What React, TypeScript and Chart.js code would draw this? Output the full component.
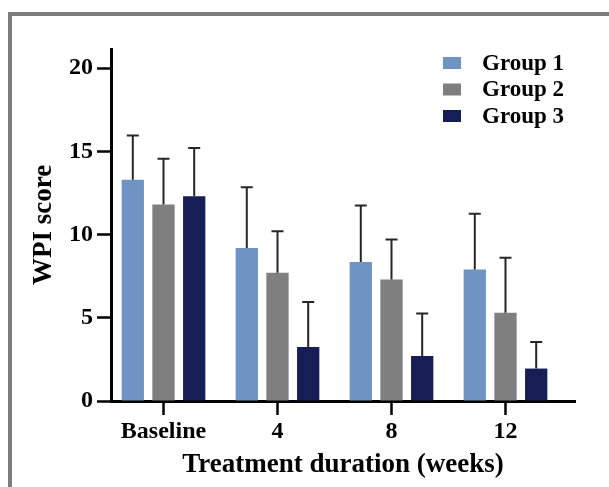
import React, { useEffect, useRef } from "react";
import { Chart, registerables } from "chart.js";

Chart.register(...registerables);

const categories = ["Baseline", "4", "8", "12"];
const seriesNames = ["Group 1", "Group 2", "Group 3"];
const group1Mean = [13.3, 9.2, 8.35, 7.9];
const group1Err = [2.65, 3.65, 3.4, 3.35];
const group2Mean = [11.8, 7.7, 7.3, 5.3];
const group2Err = [2.75, 2.5, 2.4, 3.3];
const group3Mean = [12.3, 3.25, 2.7, 1.95];
const group3Err = [2.9, 2.7, 2.55, 1.6];
const yTickValues = [0, 5, 10, 15, 20];
const yTitle = "WPI score";
const xTitle = "Treatment duration (weeks)";

const seriesColors = ["#6F93C3", "#7F7F7F", "#171D55"];
const FONT = "'Liberation Serif', 'Times New Roman', serif";

const errorBarPlugin = {
  id: "errorBars",
  afterDatasetsDraw(chart: any) {
    const { ctx } = chart;
    const yScale = chart.scales.y;
    ctx.save();
    ctx.strokeStyle = "#262626";
    ctx.lineWidth = 2;
    chart.data.datasets.forEach((ds: any, i: number) => {
      const meta = chart.getDatasetMeta(i);
      meta.data.forEach((bar: any, j: number) => {
        const v = ds.data[j].y;
        const top = yScale.getPixelForValue(v + ds.errors[j]);
        ctx.beginPath();
        ctx.moveTo(bar.x, bar.y);
        ctx.lineTo(bar.x, top);
        ctx.moveTo(bar.x - 6, top);
        ctx.lineTo(bar.x + 6, top);
        ctx.stroke();
      });
    });
    ctx.restore();
  },
};

const legendPlugin = {
  id: "sideLegend",
  afterDraw(chart: any) {
    const { ctx, chartArea } = chart;
    ctx.save();
    ctx.font = `bold 23px ${FONT}`;
    ctx.textBaseline = "middle";
    ctx.textAlign = "left";
    chart.data.datasets.forEach((ds: any, i: number) => {
      const cy = chartArea.top + 14 + i * 26.5;
      const bx = chartArea.right - 132;
      ctx.fillStyle = ds.backgroundColor;
      ctx.fillRect(bx, cy - 6, 18, 12);
      ctx.fillStyle = "#000";
      ctx.fillText(ds.label, bx + 39, cy + 1);
    });
    ctx.restore();
  },
};

export default function App() {
  const canvasRef = useRef<HTMLCanvasElement | null>(null);

  useEffect(() => {
    if (!canvasRef.current) return;
    const means = [group1Mean, group2Mean, group3Mean];
    const errs = [group1Err, group2Err, group3Err];
    const chart = new Chart(canvasRef.current, {
      type: "bar",
      data: {
        datasets: seriesNames.map((name, k) => ({
          label: name,
          data: means[k].map((v, i) => ({ x: i, y: v })),
          errors: errs[k],
          backgroundColor: seriesColors[k],
          borderWidth: 0,
          categoryPercentage: 0.808,
          barPercentage: 0.726,
        })) as any,
      },
      options: {
        responsive: false,
        animation: false,
        devicePixelRatio: 1,
        layout: { padding: { left: 0, top: 49, right: 34, bottom: 0 } },
        plugins: {
          legend: { display: false },
          tooltip: { enabled: false },
        },
        scales: {
          x: {
            type: "linear",
            min: -0.4605,
            max: 3.6097,
            offset: false,
            z: 1,
            afterFit: (scale: any) => {
              scale.height = 86;
            },
            afterBuildTicks: (scale: any) => {
              scale.ticks = categories.map((_, i) => ({ value: i }));
            },
            ticks: {
              callback: (value: any) => categories[Math.round(Number(value))] ?? "",
              color: "#000",
              padding: 2.5,
              maxRotation: 0,
              autoSkip: false,
              font: { family: FONT, size: 24, weight: "bold" },
            },
            grid: {
              offset: false,
              drawOnChartArea: false,
              drawTicks: true,
              tickLength: 14,
              tickWidth: 2.5,
              tickColor: "#000",
            },
            border: { display: true, color: "#000", width: 3 },
            title: {
              display: true,
              text: xTitle,
              color: "#000",
              padding: { top: 0, bottom: 6 },
              font: { family: FONT, size: 27, weight: "bold" },
            },
          },
          y: {
            type: "linear",
            min: 0,
            max: 21.15,
            afterFit: (scale: any) => {
              scale.width = 111;
            },
            afterBuildTicks: (scale: any) => {
              scale.ticks = yTickValues.map((v) => ({ value: v }));
            },
            ticks: {
              color: "#000",
              padding: 4,
              font: { family: FONT, size: 24, weight: "bold" },
            },
            grid: {
              drawOnChartArea: false,
              drawTicks: true,
              tickLength: 14,
              tickWidth: 2.5,
              tickColor: "#000",
            },
            border: { display: true, color: "#000", width: 3 },
            title: {
              display: true,
              text: yTitle,
              color: "#000",
              padding: { top: 27.5, bottom: 0 },
              font: { family: FONT, size: 27, weight: "bold" },
            },
          },
        },
      } as any,
      plugins: [errorBarPlugin, legendPlugin],
    });
    return () => chart.destroy();
  }, []);

  return (
    <div style={{ position: "absolute", left: 0, top: 0, width: 609, height: 487, overflow: "hidden", background: "#fff" }}>
      <div
        style={{
          position: "absolute",
          left: 8,
          top: 12,
          width: 601,
          height: 475,
          boxSizing: "border-box",
          borderTop: "4px solid #7d7d7d",
          borderLeft: "4px solid #7d7d7d",
        }}
      />
      <canvas
        ref={canvasRef}
        width={609}
        height={487}
        style={{ position: "absolute", left: 0, top: 0, width: 609, height: 487 }}
      />
    </div>
  );
}
